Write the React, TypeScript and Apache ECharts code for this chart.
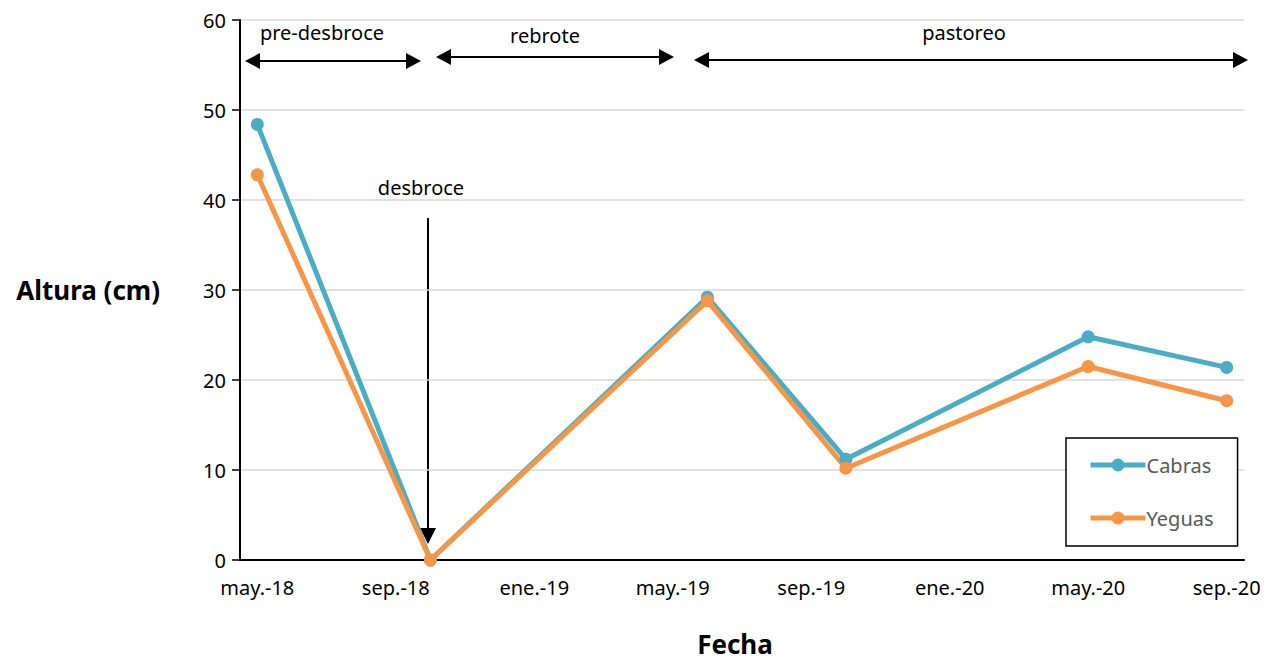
import React, { useEffect, useRef } from "react";
import * as echarts from "echarts";

const months = [
  "may.-18", "jun.-18", "jul.-18", "ago.-18", "sep.-18", "oct.-18", "nov.-18", "dic.-18",
  "ene.-19", "feb.-19", "mar.-19", "abr.-19", "may.-19", "jun.-19", "jul.-19", "ago.-19",
  "sep.-19", "oct.-19", "nov.-19", "dic.-19", "ene.-20", "feb.-20", "mar.-20", "abr.-20",
  "may.-20", "jun.-20", "jul.-20", "ago.-20", "sep.-20",
];
const sampleMonths = ["may.-18", "oct.-18", "jun.-19", "oct.-19", "may.-20", "sep.-20"];
const cabras = [48.4, 0, 29.2, 11.2, 24.8, 21.4];
const yeguas = [42.8, 0, 28.8, 10.2, 21.5, 17.7];
const yTicks = { min: 0, max: 60, interval: 10 };

const FONT = "Noto Sans";

function toSeries(values: number[]) {
  return months.map((m) => {
    const i = sampleMonths.indexOf(m);
    return i >= 0 ? values[i] : null;
  });
}

function hArrow(x1: number, x2: number, y: number) {
  const h = 8, w = 15;
  return [
    { type: "line", shape: { x1: x1 + w, y1: y, x2: x2 - w, y2: y }, style: { stroke: "#000", lineWidth: 2 }, silent: true },
    { type: "polygon", shape: { points: [[x1, y], [x1 + w, y - h], [x1 + w, y + h]] }, style: { fill: "#000" }, silent: true },
    { type: "polygon", shape: { points: [[x2, y], [x2 - w, y - h], [x2 - w, y + h]] }, style: { fill: "#000" }, silent: true },
  ];
}

export default function App() {
  const ref = useRef<HTMLDivElement>(null);
  useEffect(() => {
    if (!ref.current) return;
    const chart = echarts.init(ref.current, undefined, { renderer: "svg" });
    const textStyle = { fontFamily: FONT, fontSize: 20, fill: "#000" };
    chart.setOption({
      animation: false,
      backgroundColor: "#fff",
      grid: { left: 240, right: 23, top: 20, bottom: 100 },
      legend: {
        orient: "vertical",
        left: 1066,
        top: 438,
        itemGap: 33,
        itemWidth: 55,
        itemHeight: 16,
        padding: [17, 24, 18, 22],
        borderColor: "#000",
        borderWidth: 1.5,
        backgroundColor: "#fff",
        lineStyle: { width: 5 },
        textStyle: { fontFamily: FONT, fontSize: 20, color: "#595959", padding: [0, 0, 0, -4] },
        data: ["Cabras", "Yeguas"],
      },
      xAxis: {
        type: "category",
        data: months,
        boundaryGap: true,
        name: "Fecha",
        nameLocation: "middle",
        nameGap: 71,
        nameTextStyle: { fontFamily: FONT, fontSize: 26, fontWeight: "bold", color: "#000", padding: [0, 14, 0, 0] },
        axisLine: { lineStyle: { color: "#000", width: 2 } },
        axisTick: { interval: 3, length: 8, lineStyle: { color: "#000", width: 1.5 } },
        axisLabel: { interval: 3, margin: 17, fontFamily: FONT, fontSize: 20, color: "#000" },
        splitLine: { show: false },
      },
      yAxis: {
        type: "value",
        min: yTicks.min,
        max: yTicks.max,
        interval: yTicks.interval,
        name: "Altura (cm)",
        nameLocation: "middle",
        nameRotate: 0,
        nameGap: 80,
        nameTextStyle: { fontFamily: FONT, fontSize: 26, fontWeight: "bold", color: "#000" },
        axisLine: { show: true, lineStyle: { color: "#000", width: 2 } },
        axisTick: { show: true, length: 8, lineStyle: { color: "#000", width: 1.5 } },
        axisLabel: { margin: 14, fontFamily: FONT, fontSize: 20, color: "#000" },
        splitLine: { lineStyle: { color: "#d9d9d9", width: 1.5 } },
      },
      series: [
        {
          name: "Cabras",
          type: "line",
          data: toSeries(cabras),
          connectNulls: true,
          color: "#4BACC6",
          lineStyle: { width: 5 },
          symbol: "circle",
          symbolSize: 13,
          showSymbol: true,
        },
        {
          name: "Yeguas",
          type: "line",
          data: toSeries(yeguas),
          connectNulls: true,
          color: "#F79646",
          lineStyle: { width: 5 },
          symbol: "circle",
          symbolSize: 13,
          showSymbol: true,
        },
      ],
      graphic: [
        ...hArrow(245, 421, 61),
        ...hArrow(436, 674, 57),
        ...hArrow(694, 1248, 60),
        { type: "line", shape: { x1: 428, y1: 218, x2: 428, y2: 530 }, style: { stroke: "#000", lineWidth: 2 }, silent: true },
        { type: "polygon", shape: { points: [[428, 544], [420, 528], [436, 528]] }, style: { fill: "#000" }, silent: true },
        { type: "text", x: 322, y: 32, style: { ...textStyle, text: "pre-desbroce", align: "center", verticalAlign: "middle" } },
        { type: "text", x: 545, y: 35, style: { ...textStyle, text: "rebrote", align: "center", verticalAlign: "middle" } },
        { type: "text", x: 964, y: 32, style: { ...textStyle, text: "pastoreo", align: "center", verticalAlign: "middle" } },
        { type: "text", x: 421, y: 187, style: { ...textStyle, text: "desbroce", align: "center", verticalAlign: "middle" } },
      ],
    });
    return () => chart.dispose();
  }, []);
  return <div ref={ref} style={{ position: "absolute", left: 0, top: 0, width: 1267, height: 662 }} />;
}
